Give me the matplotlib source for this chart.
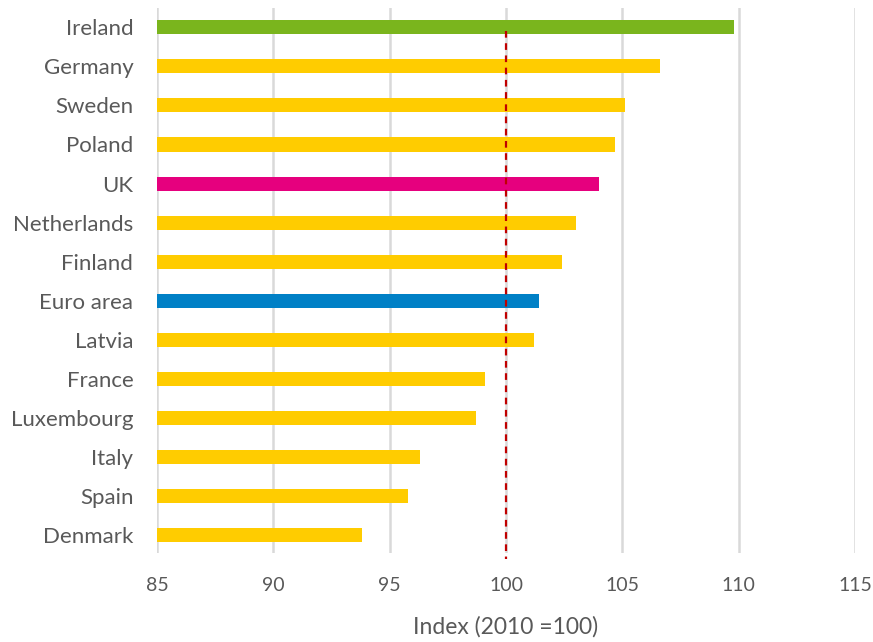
import matplotlib
matplotlib.use("Agg")
import matplotlib.pyplot as plt

# data (index, 2010 = 100)
countries = ["Ireland", "Germany", "Sweden", "Poland", "UK", "Netherlands", "Finland",
             "Euro area", "Latvia", "France", "Luxembourg", "Italy", "Spain", "Denmark"]
values = [109.8, 106.6, 105.1, 104.7, 104.0, 103.0, 102.4,
          101.4, 101.2, 99.1, 98.7, 96.3, 95.8, 93.8]
bar_colors = ["#7AB51D", "#FFCC00", "#FFCC00", "#FFCC00", "#E6007E", "#FFCC00", "#FFCC00",
              "#0080C6", "#FFCC00", "#FFCC00", "#FFCC00", "#FFCC00", "#FFCC00", "#FFCC00"]
x_ticks = [85, 90, 95, 100, 105, 110, 115]
base = 85
reference = 100

plt.rcParams['font.family'] = ['Lato', 'DejaVu Sans']
text_color = "#595959"

fig = plt.figure(figsize=(8.73, 6.42), dpi=100)
ax = fig.add_axes([0.1798, 0.1386, 0.7996, 0.8489])

pos = list(range(len(countries)))
ax.barh(pos, [v - base for v in values], left=base, height=0.36,
        color=bar_colors, zorder=2)

# dashed reference line at 100
ax.vlines(reference, 0.1, 13.6, colors="#C00000", linestyles=(0, (3, 2.5)),
          linewidth=1.6, zorder=3, clip_on=False)

ax.set_xlim(85, 115)
ax.set_ylim(13.45, -0.49)
ax.set_xticks(x_ticks)
ax.set_yticks(pos)
ax.set_yticklabels(countries)
ax.grid(axis="x", color="#D9D9D9", linewidth=1.8, zorder=0)
ax.set_axisbelow(True)
for s in ax.spines.values():
    s.set_visible(False)

ax.tick_params(axis="both", length=0, colors=text_color)
ax.tick_params(axis="y", labelsize=16, pad=17)
ax.tick_params(axis="x", labelsize=14, pad=17)
ax.set_xlabel("Index (2010 =100)", fontsize=16.5, color=text_color, labelpad=16)

fig.savefig("out.png", dpi=100)
